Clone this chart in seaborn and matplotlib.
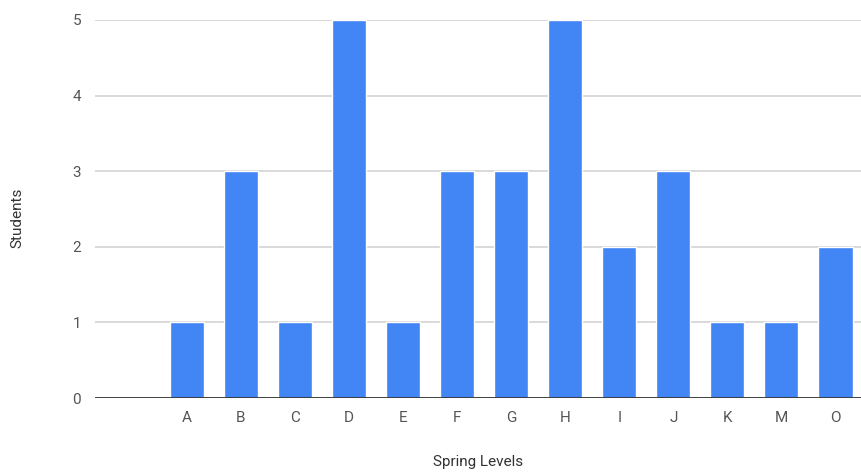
import matplotlib
matplotlib.use("Agg")
import matplotlib.pyplot as plt
import seaborn as sns
import pandas as pd

levels = ["A", "B", "C", "D", "E", "F", "G", "H", "I", "J", "K", "M", "O"]
students = [1, 3, 1, 5, 1, 3, 3, 5, 2, 3, 1, 1, 2]
y_ticks = [0, 1, 2, 3, 4, 5]

sns.set_style("white")
plt.rcParams["font.family"] = ["Roboto", "DejaVu Sans"]

df = pd.DataFrame({"level": levels, "students": students})

fig = plt.figure(figsize=(8.62, 4.74), dpi=100)
ax = fig.add_axes([95 / 862, 76 / 474, 767 / 862, 378 / 474])

sns.barplot(data=df, x="level", y="students", color="#4285F4",
            saturation=1, width=0.63, ax=ax, zorder=3)

ax.set_xlim(-1.70, 12.49)
ax.set_ylim(0, 5)
ax.set_yticks(y_ticks)
ax.yaxis.grid(True, color="#d0d0d0", linewidth=1.1, zorder=0)
ax.axhline(0, color="#333333", linewidth=2, zorder=4)

for s in ax.spines.values():
    s.set_visible(False)

ax.tick_params(axis="both", length=0, labelsize=11, colors="#555555")
ax.tick_params(axis="y", pad=10)
ax.tick_params(axis="x", pad=9)

ax.set_xlabel("Spring Levels", fontsize=11, color="#333333", labelpad=22)
ax.set_ylabel("Students", fontsize=11, color="#333333")
ax.yaxis.set_label_coords(-0.092, 0.476)

fig.savefig("out.png", dpi=100)
